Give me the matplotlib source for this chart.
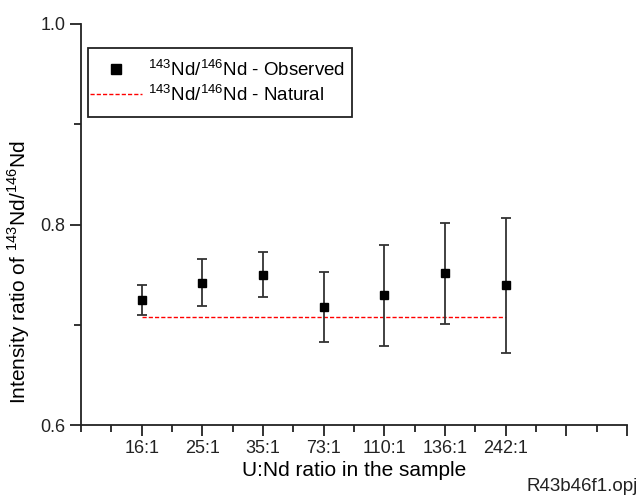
import matplotlib
matplotlib.use("Agg")
import matplotlib.pyplot as plt
import numpy as np
from matplotlib.ticker import MultipleLocator
from matplotlib.lines import Line2D
from matplotlib.patches import Rectangle

plt.rcParams['font.family'] = ['Liberation Sans', 'DejaVu Sans']
plt.rcParams['mathtext.fontset'] = 'custom'
plt.rcParams['mathtext.rm'] = 'Liberation Sans'

# data
categories = ['16:1', '25:1', '35:1', '73:1', '110:1', '136:1', '242:1']
observed = [0.7245, 0.7419, 0.7499, 0.7174, 0.7292, 0.7512, 0.7394]
obs_err = [0.0150, 0.0233, 0.0223, 0.0349, 0.0504, 0.0505, 0.0674]
natural = 0.708

x = np.arange(1, len(categories) + 1)

W, H = 639, 503
fig = plt.figure(figsize=(W / 100, H / 100), dpi=100)
ax = fig.add_axes([81/W, 78/H, 546/W, 401/H])

ax.plot([x[0], x[-1]], [natural, natural], color='red', ls=(0, (3, 1.5)), lw=1.0, zorder=2)
ax.errorbar(x, observed, yerr=obs_err, fmt='s', color='black', ms=6,
            ecolor='#333333', elinewidth=1.3, capsize=3.6, capthick=1.3, zorder=3)

ax.set_xlim(0, 9)
ax.set_ylim(0.6, 1.0)
ax.set_xticks(np.arange(1, 10))
ax.set_xticklabels(categories + ['', ''])
ax.xaxis.set_minor_locator(MultipleLocator(0.5))
ax.set_yticks([0.6, 0.8, 1.0])
ax.set_yticklabels(['0.6', '0.8', '1.0'])
ax.yaxis.set_minor_locator(MultipleLocator(0.1))

for s in ['top', 'right']:
    ax.spines[s].set_visible(False)
for s in ['left', 'bottom']:
    ax.spines[s].set_linewidth(1.3)
    ax.spines[s].set_color('#222222')

ax.tick_params(which='major', length=8, width=1.3, direction='out', labelsize=13,
               colors='#222222', pad=3)
ax.tick_params(which='minor', length=5, width=1.3, direction='out', colors='#222222')

ax.set_xlabel('U:Nd ratio in the sample', fontsize=15, labelpad=3)
ax.set_ylabel(r'Intensity ratio of $^{143}$Nd/$^{146}$Nd', fontsize=15)
ax.yaxis.set_label_coords(-0.09, 0.38)

# legend without its own frame, the box is drawn separately (Origin style padding)
handles = [Line2D([], [], marker='s', ls='none', color='black', ms=7),
           Line2D([], [], color='red', ls=(0, (3, 1.5)), lw=1.0)]
labels = [r'$^{143}$Nd/$^{146}$Nd - Observed', r'$^{143}$Nd/$^{146}$Nd - Natural']
leg = ax.legend(handles, labels, loc='upper left', bbox_to_anchor=(9/546, (425 - 59)/401),
                borderaxespad=0, borderpad=0, fontsize=13.5, frameon=False,
                handlelength=2.77, handletextpad=0.32, labelspacing=0.23)
ax.add_patch(Rectangle((7/546, (425 - 117)/401), (352 - 88)/546, 69/401,
                       transform=ax.transAxes, fill=False, ec='#222222', lw=1.3,
                       zorder=4, clip_on=False))

fig.text(0.998, 0.015, 'R43b46f1.opj', ha='right', va='bottom', fontsize=13.5, color='#222222')

fig.savefig('out.png', dpi=100)
